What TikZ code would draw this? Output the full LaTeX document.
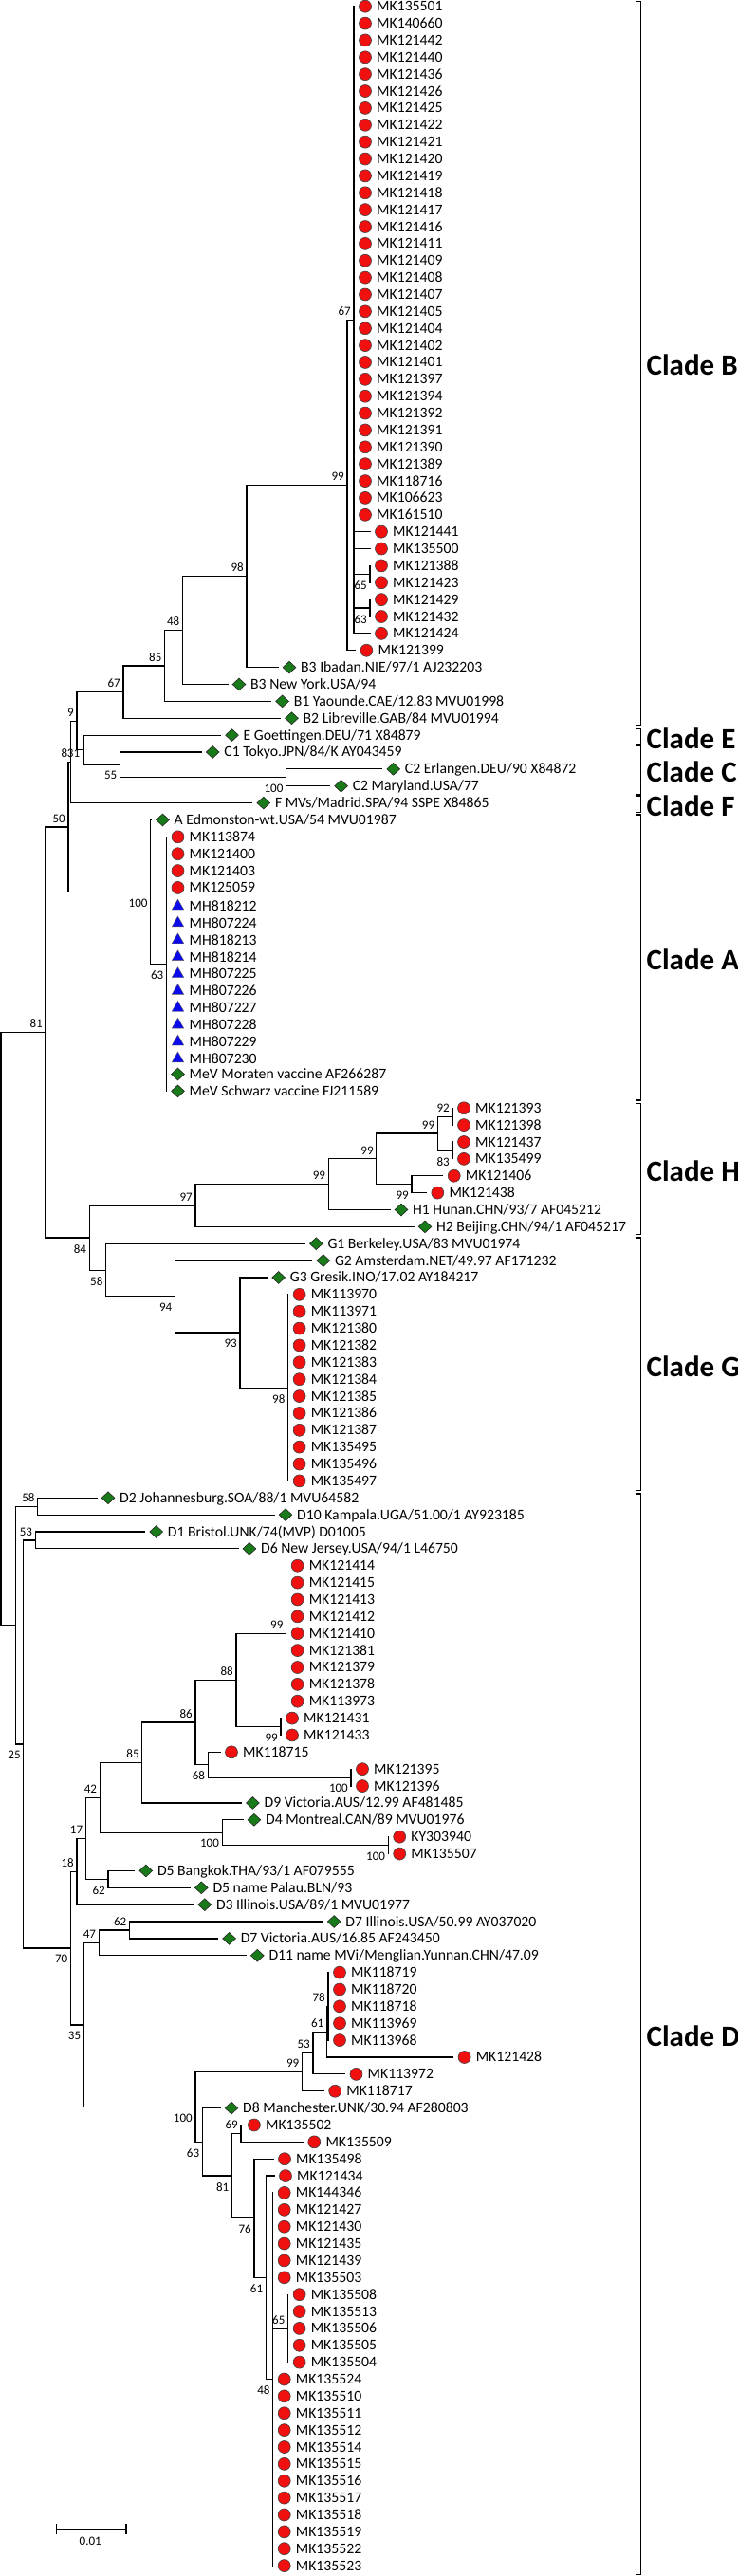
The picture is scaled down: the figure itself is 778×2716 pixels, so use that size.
\documentclass[tikz,border=0pt]{standalone}
\usepackage{fontspec}
\setmainfont{Carlito}
\usetikzlibrary{calc,shapes.geometric}

\definecolor{isored}{RGB}{240,16,16}
\definecolor{refgreen}{RGB}{24,122,24}
\definecolor{vaxblue}{RGB}{10,10,235}

\tikzset{
  br/.style={line width=1.2pt,line cap=rect},
  brk/.style={line width=1.2pt},
  circ/.style={circle,draw=black!75,line width=0.6pt,fill=isored,minimum size=13pt,inner sep=0pt},
  dia/.style={diamond,draw=black!85,line width=0.6pt,fill=refgreen,minimum width=14pt,minimum height=13pt,inner sep=0pt},
  tri/.style={regular polygon,regular polygon sides=3,draw=black!60,line width=0.4pt,fill=vaxblue,minimum size=14.5pt,inner sep=0pt,yshift=-1.6pt},
  txt/.style={anchor=base west,inner sep=0pt,font=\fontsize{15.7}{18}\selectfont},
  boot/.style={inner sep=1pt,font=\fontsize{13}{15}\selectfont},
  cladelbl/.style={anchor=west,inner sep=0pt,font=\bfseries\fontsize{31}{34}\selectfont}
}

% leaf: row, tip x, marker, text
\newcommand\taxon[4]{%
  \coordinate (t#1) at (#2,{-6.7-(#1-1)*17.87});
  \node[#3] (t#1m) at ([xshift=12pt]t#1) {};
  \node[txt] (t#1t) at ([xshift=12pt,yshift=-5pt]t#1m.center) {#4};}
% inner node: name, x, first child, last child
\newcommand\clade[4]{\path let \p1=(#3), \p2=(#4) in (#2pt,{(\y1+\y2)/2}) coordinate (#1);}
% bootstrap values above / below the node
\newcommand\bsa[2]{\node[boot,anchor=south east] (#1v) at ([xshift=-2pt,yshift=3.5pt]#1) {#2};}
\newcommand\bsb[2]{\node[boot,anchor=north east] (#1v) at ([xshift=-2pt,yshift=-6pt]#1) {#2};}

\begin{document}
\begin{tikzpicture}[x=1pt,y=1pt]
\useasboundingbox (0,0) rectangle (778,-2716);

% clade B
\foreach \id [count=\rr] in {135501,140660,121442,121440,121436,121426,121425,121422,121421,121420,121419,121418,121417,121416,121411,121409,121408,121407,121405,121404,121402,121401,121397,121394,121392,121391,121390,121389,118716,106623,161510}
  {\taxon{\rr}{373}{circ}{MK\id}}
\taxon{32}{390}{circ}{MK121441}
\taxon{33}{390}{circ}{MK135500}
\taxon{34}{390}{circ}{MK121388}
\taxon{35}{390}{circ}{MK121423}
\taxon{36}{390}{circ}{MK121429}
\taxon{37}{390}{circ}{MK121432}
\taxon{38}{390}{circ}{MK121424}
\taxon{39}{374.4}{circ}{MK121399}
\taxon{40}{293}{dia}{B3 Ibadan.NIE/97/1 AJ232203}
\taxon{41}{240}{dia}{B3 New York.USA/94}
\taxon{42}{285.6}{dia}{B1 Yaounde.CAE/12.83 MVU01998}
\taxon{43}{295.5}{dia}{B2 Libreville.GAB/84 MVU01994}
% clades E, C, F
\taxon{44}{232.5}{dia}{E Goettingen.DEU/71 X84879}
\taxon{45}{212.2}{dia}{C1 Tokyo.JPN/84/K AY043459}
\taxon{46}{402.7}{dia}{C2 Erlangen.DEU/90 X84872}
\taxon{47}{347.6}{dia}{C2 Maryland.USA/77}
\taxon{48}{265.8}{dia}{F MVs/Madrid.SPA/94 SSPE X84865}
% clade A
\taxon{49}{159.5}{dia}{A Edmonston-wt.USA/54 MVU01987}
\foreach \id [count=\rr from 50] in {113874,121400,121403,125059}
  {\taxon{\rr}{175.5}{circ}{MK\id}}
\foreach \id [count=\rr from 54] in {818212,807224,818213,818214,807225,807226,807227,807228,807229,807230}
  {\taxon{\rr}{175.5}{tri}{MH\id}}
\taxon{64}{175.5}{dia}{MeV Moraten vaccine AF266287}
\taxon{65}{175.5}{dia}{MeV Schwarz vaccine FJ211589}
% clade H
\foreach \id [count=\rr from 66] in {121393,121398,121437,135499}
  {\taxon{\rr}{477}{circ}{MK\id}}
\taxon{70}{466.7}{circ}{MK121406}
\taxon{71}{449.3}{circ}{MK121438}
\taxon{72}{411}{dia}{H1 Hunan.CHN/93/7 AF045212}
\taxon{73}{436}{dia}{H2 Beijing.CHN/94/1 AF045217}
% clade G
\taxon{74}{321.3}{dia}{G1 Berkeley.USA/83 MVU01974}
\taxon{75}{328.8}{dia}{G2 Amsterdam.NET/49.97 AF171232}
\taxon{76}{281.7}{dia}{G3 Gresik.INO/17.02 AY184217}
\foreach \id [count=\rr from 77] in {113970,113971,121380,121382,121383,121384,121385,121386,121387,135495,135496,135497}
  {\taxon{\rr}{303.6}{circ}{MK\id}}
% clade D
\taxon{89}{102}{dia}{D2 Johannesburg.SOA/88/1 MVU64582}
\taxon{90}{289}{dia}{D10 Kampala.UGA/51.00/1 AY923185}
\taxon{91}{152.7}{dia}{D1 Bristol.UNK/74(MVP) D01005}
\taxon{92}{250.9}{dia}{D6 New Jersey.USA/94/1 L46750}
\foreach \id [count=\rr from 93] in {121414,121415,121413,121412,121410,121381,121379,121378,113973}
  {\taxon{\rr}{301.6}{circ}{MK\id}}
\taxon{102}{296}{circ}{MK121431}
\taxon{103}{296}{circ}{MK121433}
\taxon{104}{232}{circ}{MK118715}
\taxon{105}{370}{circ}{MK121395}
\taxon{106}{370}{circ}{MK121396}
\taxon{107}{254.4}{dia}{D9 Victoria.AUS/12.99 AF481485}
\taxon{108}{255.9}{dia}{D4 Montreal.CAN/89 MVU01976}
\taxon{109}{409.2}{circ}{KY303940}
\taxon{110}{409.2}{circ}{MK135507}
\taxon{111}{141.8}{dia}{D5 Bangkok.THA/93/1 AF079555}
\taxon{112}{200.3}{dia}{D5 name Palau.BLN/93}
\taxon{113}{203.8}{dia}{D3 Illinois.USA/89/1 MVU01977}
\taxon{114}{340.2}{dia}{D7 Illinois.USA/50.99 AY037020}
\taxon{115}{229.6}{dia}{D7 Victoria.AUS/16.85 AF243450}
\taxon{116}{259.3}{dia}{D11 name MVi/Menglian.Yunnan.CHN/47.09}
\foreach \id [count=\rr from 117] in {118719,118720,118718,113969,113968}
  {\taxon{\rr}{346}{circ}{MK\id}}
\taxon{122}{477.6}{circ}{MK121428}
\taxon{123}{363.5}{circ}{MK113972}
\taxon{124}{341.2}{circ}{MK118717}
\taxon{125}{232}{dia}{D8 Manchester.UNK/30.94 AF280803}
\taxon{126}{255.9}{circ}{MK135502}
\taxon{127}{319.3}{circ}{MK135509}
\taxon{128}{288}{circ}{MK135498}
\taxon{129}{289}{circ}{MK121434}
\foreach \id [count=\rr from 130] in {144346,121427,121430,121435,121439,135503}
  {\taxon{\rr}{287.7}{circ}{MK\id}}
\foreach \id [count=\rr from 136] in {135508,135513,135506,135505,135504}
  {\taxon{\rr}{303.6}{circ}{MK\id}}
\foreach \id [count=\rr from 141] in {135524,135510,135511,135512,135514,135515,135516,135517,135518,135519,135522,135523}
  {\taxon{\rr}{287.7}{circ}{MK\id}}

% inner nodes
\clade{P}{373}{t1}{t38}
\clade{P65}{390}{t34}{t35}
\clade{P63}{390}{t36}{t37}
\clade{Q}{366}{P}{t39}
\clade{R}{260}{Q}{t40}
\clade{S}{192.5}{R}{t41}
\clade{T}{173.6}{S}{t42}
\clade{U}{130}{T}{t43}
\clade{C2n}{301.6}{t46}{t47}
\clade{Cn}{126.5}{t45}{C2n}
\clade{W}{88.3}{t44}{Cn}
\clade{V}{80.9}{U}{W}
\clade{X}{74.4}{V}{t48}
\clade{A63}{175.5}{t50}{t65}
\clade{An}{158.7}{t49}{A63}
\clade{Y}{72}{X}{An}
\clade{H92}{477}{t66}{t67}
\clade{H83}{477}{t68}{t69}
\clade{H99a}{461.3}{H92}{H83}
\clade{H99c}{434}{t70}{t71}
\clade{H99b}{396.8}{H99a}{H99c}
\clade{H99d}{346.2}{H99b}{t72}
\clade{H97}{205.9}{H99d}{t73}
\clade{G98}{303.6}{t77}{t88}
\clade{G93}{253}{t76}{G98}
\clade{G94}{184.5}{t75}{G93}
\clade{G58}{111.6}{t74}{G94}
\clade{HG}{94.2}{H97}{G58}
\clade{AB}{48}{Y}{HG}
\clade{D58}{39.7}{t89}{t90}
\clade{D53}{37.2}{t91}{t92}
\clade{D99a}{301.6}{t93}{t101}
\clade{D99b}{296}{t102}{t103}
\clade{D88}{249}{D99a}{D99b}
\clade{D100c}{370}{t105}{t106}
\clade{D68}{219.2}{t104}{D100c}
\clade{D86}{205.9}{D88}{D68}
\clade{D85}{149.8}{D86}{t107}
\clade{D100b}{409.2}{t109}{t110}
\clade{D100a}{234.1}{t108}{D100b}
\clade{D42}{105.2}{D85}{D100a}
\clade{D62}{114}{t111}{t112}
\clade{D17}{90.3}{D42}{D62}
\clade{D18}{80.9}{D17}{t113}
\clade{D62b}{136.4}{t114}{t115}
\clade{D47}{104.2}{D62b}{t116}
\clade{D78}{346}{t117}{t121}
\clade{D61}{344.5}{D78}{t122}
\clade{D53b}{329.9}{D61}{t123}
\clade{D99c}{318.5}{D53b}{t124}
\clade{D69}{254}{t126}{t127}
\clade{D65}{303.6}{t136}{t140}
\clade{D48}{287.7}{t130}{t152}
\clade{D61b}{280.3}{t129}{D48}
\clade{D76}{267.9}{t128}{D61b}
\clade{D81}{244.5}{D69}{D76}
\clade{D63}{213.3}{t125}{D81}
\clade{D100d}{205.9}{D99c}{D63}
\clade{D35}{88.3}{D47}{D100d}
\clade{DF}{74.4}{D18}{D35}
\clade{DE}{24.8}{D53}{DF}
\clade{DD}{16.4}{D58}{DE}
\clade{root}{1}{AB}{DD}

% branches
\foreach \k in {1,...,33} \draw[br] (P) |- (t\k);
\draw[br] (P) |- (P65) (P) |- (P63) (P) |- (t38)
  (P65) |- (t34) (P65) |- (t35) (P63) |- (t36) (P63) |- (t37)
  (Q) |- (P) (Q) |- (t39) (R) |- (Q) (R) |- (t40) (S) |- (R) (S) |- (t41)
  (T) |- (S) (T) |- (t42) (U) |- (T) (U) |- (t43)
  (C2n) |- (t46) (C2n) |- (t47) (Cn) |- (t45) (Cn) |- (C2n)
  (W) |- (t44) (W) |- (Cn) (V) |- (U) (V) |- (W) (X) |- (V) (X) |- (t48)
  (An) |- (t49) (An) |- (A63) (Y) |- (X) (Y) |- (An);
\foreach \k in {50,...,65} \draw[br] (A63) |- (t\k);
\draw[br] (H92) |- (t66) (H92) |- (t67) (H83) |- (t68) (H83) |- (t69)
  (H99a) |- (H92) (H99a) |- (H83) (H99c) |- (t70) (H99c) |- (t71)
  (H99b) |- (H99a) (H99b) |- (H99c) (H99d) |- (H99b) (H99d) |- (t72)
  (H97) |- (H99d) (H97) |- (t73);
\foreach \k in {77,...,88} \draw[br] (G98) |- (t\k);
\draw[br] (G93) |- (t76) (G93) |- (G98) (G94) |- (t75) (G94) |- (G93)
  (G58) |- (t74) (G58) |- (G94) (HG) |- (H97) (HG) |- (G58)
  (AB) |- (Y) (AB) |- (HG) (root) |- (AB) (root) |- (DD);
\foreach \k in {93,...,101} \draw[br] (D99a) |- (t\k);
\foreach \k in {117,...,121} \draw[br] (D78) |- (t\k);
\foreach \k in {130,...,135,141,142,...,152} \draw[br] (D48) |- (t\k);
\foreach \k in {136,...,140} \draw[br] (D65) |- (t\k);
\draw[br] (D58) |- (t89) (D58) |- (t90) (D53) |- (t91) (D53) |- (t92)
  (D99b) |- (t102) (D99b) |- (t103) (D88) |- (D99a) (D88) |- (D99b)
  (D100c) |- (t105) (D100c) |- (t106) (D68) |- (t104) (D68) |- (D100c)
  (D86) |- (D88) (D86) |- (D68) (D85) |- (D86) (D85) |- (t107)
  (D100b) |- (t109) (D100b) |- (t110) (D100a) |- (t108) (D100a) |- (D100b)
  (D42) |- (D85) (D42) |- (D100a) (D62) |- (t111) (D62) |- (t112)
  (D17) |- (D42) (D17) |- (D62) (D18) |- (D17) (D18) |- (t113)
  (D62b) |- (t114) (D62b) |- (t115) (D47) |- (D62b) (D47) |- (t116)
  (D61) |- (D78) (D61) |- (t122) (D53b) |- (D61) (D53b) |- (t123)
  (D99c) |- (D53b) (D99c) |- (t124) (D69) |- (t126) (D69) |- (t127)
  (D48) |- (D65) (D61b) |- (t129) (D61b) |- (D48) (D76) |- (t128) (D76) |- (D61b)
  (D81) |- (D69) (D81) |- (D76) (D63) |- (t125) (D63) |- (D81)
  (D100d) |- (D99c) (D100d) |- (D63) (D35) |- (D47) (D35) |- (D100d)
  (DF) |- (D18) (DF) |- (D35) (DE) |- (D53) (DE) |- (DF)
  (DD) |- (D58) (DD) |- (DE);

% bootstrap values
\bsa{P}{67} \bsb{P65}{65} \bsb{P63}{63} \bsa{Q}{99} \bsa{R}{98} \bsa{S}{48}
\bsa{T}{85} \bsa{U}{67} \bsa{V}{9} \bsa{X}{8} \bsb{Cn}{55} \bsb{C2n}{100}
\node[boot,anchor=east] (Wv) at ([xshift=-3pt,yshift=-4pt]W) {31};
\bsa{Y}{50} \bsb{An}{100} \bsb{A63}{63} \bsa{AB}{81}
\bsa{H92}{92} \bsb{H83}{83} \bsa{H99a}{99} \bsb{H99c}{99} \bsa{H99b}{99}
\bsa{H99d}{99} \bsa{H97}{97} \bsb{HG}{84}
\bsb{G58}{58} \bsb{G94}{94} \bsb{G93}{93} \bsb{G98}{98}
\bsa{D58}{58} \bsa{D53}{53} \bsa{D99a}{99} \bsb{D99b}{99} \bsa{D88}{88}
\bsb{D100c}{100} \bsb{D68}{68} \bsa{D86}{86} \bsa{D85}{85} \bsb{D100b}{100}
\bsb{D100a}{100} \bsa{D42}{42} \bsb{D62}{62} \bsa{D17}{17} \bsa{D18}{18}
\bsa{D62b}{62} \bsa{D47}{47} \bsa{D78}{78} \bsa{D61}{61} \bsa{D53b}{53}
\bsa{D99c}{99} \bsa{D69}{69} \bsa{D65}{65} \bsb{D48}{48} \bsb{D61b}{61}
\bsb{D76}{76} \bsb{D81}{81} \bsb{D63}{63} \bsb{D100d}{100} \bsb{D35}{35}
\bsb{DF}{70} \bsb{DE}{25}

% clade brackets
\foreach \a/\b/\lab in {1.7/764.3/B,768.3/785/E,786.7/837.7/C,839/856.7/F,859/1160/A,1163.3/1301.7/H,1305/1571.7/G,1575/2714.5/D}{
  \draw[brk] (669.6,-\a) -- (675.6,-\a) -- (675.6,-\b) -- (669.6,-\b);
  \node[cladelbl] (clade\lab) at (681.5,{-(\a+\b)/2-2}) {Clade \lab};
}

% scale bar
\coordinate (sbl) at (59.5,-2666.7);
\coordinate (sbr) at (133,-2666.7);
\draw[br] (sbl) -- (sbr) ([yshift=5pt]sbl) -- ([yshift=-5pt]sbl) ([yshift=5pt]sbr) -- ([yshift=-5pt]sbr);
\node[boot] (sbv) at (95.2,-2679) {0.01};
\end{tikzpicture}
\end{document}
